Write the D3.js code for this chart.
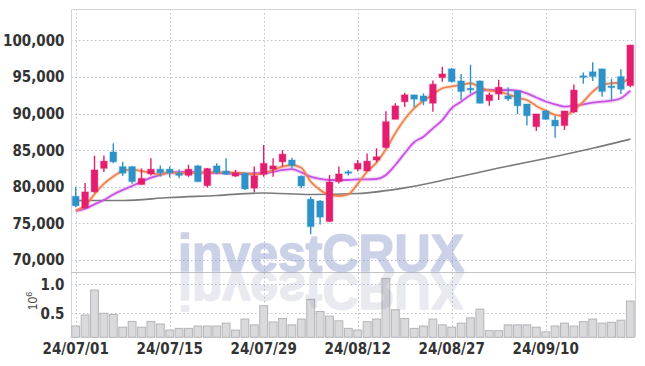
<!DOCTYPE html>
<html>
<head>
<meta charset="utf-8">
<script src="https://cdn.jsdelivr.net/npm/d3@7"></script>
<style>
  html, body { margin: 0; padding: 0; background: #fff; }
  svg { display: block; }
  .lbl { font-family: "Liberation Sans Narrow", "DejaVu Sans Condensed", sans-serif; font-size: 15px; font-weight: bold; fill: #333; }
</style>
</head>
<body>
<svg id="chart" width="645" height="366"></svg>
<script>
// ---------- DATA ----------
const dates = [
  "24/07/01","24/07/02","24/07/03","24/07/04","24/07/05","24/07/08","24/07/09","24/07/10","24/07/11","24/07/12",
  "24/07/15","24/07/16","24/07/17","24/07/18","24/07/19","24/07/22","24/07/23","24/07/24","24/07/25","24/07/26",
  "24/07/29","24/07/30","24/07/31","24/08/01","24/08/02","24/08/05","24/08/06","24/08/07","24/08/08","24/08/09",
  "24/08/12","24/08/13","24/08/14","24/08/16","24/08/19","24/08/20","24/08/21","24/08/22","24/08/23","24/08/26",
  "24/08/27","24/08/28","24/08/29","24/08/30","24/09/02","24/09/03","24/09/04","24/09/05","24/09/06","24/09/09",
  "24/09/10","24/09/11","24/09/12","24/09/13","24/09/19","24/09/20","24/09/23","24/09/24","24/09/25","24/09/26"
];
const openP  = [78700,77100,79300,82500,84750,82750,82750,80300,81750,82400,
                82400,81850,81550,82850,80150,82850,82150,81450,81850,79800,
                81700,82400,83400,83650,81450,78300,78050,75250,80700,82050,
                82400,82150,83650,85350,89200,91600,92550,92400,91400,94900,
                96100,94450,93450,94450,91750,92650,92400,93100,91300,88200,
                90350,89100,88350,90200,95150,95700,96100,93750,95050,93800];
const highP  = [80000,80500,84250,84250,85950,83400,82800,82500,83900,82900,
                82750,82400,83000,83000,82550,83200,83900,82300,81900,82750,
                85700,83900,85000,83950,81550,78650,78200,81600,82750,82300,
                83650,84550,85250,90300,91400,92850,92550,92750,94500,96400,
                96200,95400,96650,94500,92850,94600,93600,93200,91300,89950,
                90400,89650,90350,93950,95600,97000,96100,94700,96050,99400];
const lowP   = [77200,77000,79200,82000,83200,81500,80400,80250,81550,81400,
                81250,81150,81350,80600,79900,81700,81600,81350,79550,79250,
                81350,81350,82750,82500,79800,73500,74850,75200,80450,81550,
                82100,82100,83400,85300,89200,90900,90850,91150,90250,94350,
                94250,91850,92750,91350,91050,91850,91700,89900,88350,87600,
                89150,86700,87750,90050,94050,94450,92300,91850,92650,93600];
const closeP = [77400,79300,82300,83500,83400,81850,80700,81150,82400,81900,
                81900,81550,82400,80700,82500,81950,81700,81900,79700,81500,
                83200,82850,84450,82900,80100,74550,75850,80650,81750,82000,
                83200,83500,84100,88900,91050,92550,91950,91700,94000,95400,
                94350,93000,93400,91400,92550,93600,92000,91050,89700,89950,
                89200,88300,90350,93200,95100,95050,93000,93700,93300,99350];
// volume in millions of shares
const volume = [0.28,0.47,0.90,0.50,0.48,0.26,0.36,0.26,0.36,0.315,
                0.21,0.24,0.24,0.28,0.28,0.28,0.33,0.21,0.40,0.30,
                0.63,0.35,0.41,0.30,0.40,0.74,0.53,0.45,0.37,0.24,
                0.21,0.355,0.40,1.10,0.56,0.41,0.24,0.28,0.40,0.30,
                0.26,0.33,0.42,0.57,0.20,0.20,0.30,0.30,0.30,0.26,
                0.18,0.28,0.33,0.28,0.355,0.40,0.33,0.345,0.38,0.71];
// moving averages
const maShort = [76760,77400,79000,80400,81400,82150,82330,82150,81920,81700,
                 81950,81840,81840,81920,81970,81970,81970,81920,81840,81700,
                 81840,82290,82740,82970,82600,80690,79560,78880,78740,78970,
                 80400,82060,83290,85110,87300,89210,90710,91710,92630,93450,
                 93700,93900,94130,93580,93120,92980,92630,92160,91850,91030,
                 90390,89800,89660,90480,91620,92980,93900,94130,94210,94950];
const maMid   = [76690,77000,77600,78190,78950,79560,80100,80690,81240,81610,
                 81970,82010,82060,81970,81920,81880,81840,81790,81740,81840,
                 81840,82060,82290,82420,81970,81370,81060,80920,80920,80920,
                 81020,81020,81060,81610,82970,84570,86070,86840,87980,89100,
                 90750,91620,92530,93080,93210,93210,93210,93120,92740,92190,
                 91640,91260,90930,91030,91260,91480,91620,91750,92080,93120];
const maLongDates = ["24/07/01","24/07/08","24/07/15","24/07/22","24/07/29","24/08/05","24/08/12",
                     "24/08/20","24/08/27","24/09/03","24/09/10","24/09/20","24/09/26"];
const maLong      = [78120,78120,78530,78810,79150,78940,79080,79850,81150,82550,83850,85250,86500];
const priceTicks  = [70000,75000,80000,85000,90000,95000,100000];
const volTicks    = [0.5,1.0];
const dateTicks   = ["24/07/01","24/07/15","24/07/29","24/08/12","24/08/27","24/09/10"];

// ---------- LAYOUT ----------
const L = 71, R = 635, T = 9, MID = 272, B = 337.3;
const svg = d3.select("#chart");
const x = d3.scaleBand().domain(dates).range([L, R]).paddingInner(0.28).paddingOuter(0.14);
const xv = d3.scaleBand().domain(dates).range([L, R]).paddingInner(0.06).paddingOuter(0.03);
const cx = d => x(d) + x.bandwidth() / 2;
const y = d3.scaleLinear().domain([68360, 104270]).range([MID, T]);
const yv = d3.scaleLinear().domain([0.086, 1.21]).range([B, MID]);

const UP = "#e41e6e", DOWN = "#2e92c8";
const gridColor = "#bcc0d4";

// ---------- GRID ----------
const grid = svg.append("g");
grid.selectAll("line.hp").data(priceTicks).join("line")
  .attr("x1", L).attr("x2", R).attr("y1", d => Math.round(y(d)) + 0.5).attr("y2", d => Math.round(y(d)) + 0.5)
  .attr("stroke", gridColor).attr("stroke-dasharray", "1.5,2.5");
grid.selectAll("line.hv").data(volTicks).join("line")
  .attr("x1", L).attr("x2", R).attr("y1", d => Math.round(yv(d)) + 0.5).attr("y2", d => Math.round(yv(d)) + 0.5)
  .attr("stroke", gridColor).attr("stroke-dasharray", "1.5,2.5");
grid.selectAll("line.vx").data(dateTicks).join("line")
  .attr("x1", d => Math.round(cx(d)) + 0.5).attr("x2", d => Math.round(cx(d)) + 0.5)
  .attr("y1", T).attr("y2", B)
  .attr("stroke", gridColor).attr("stroke-dasharray", "1.5,2.5");

// ---------- FRAME ----------
const frame = svg.append("g").attr("fill", "none");
frame.append("line").attr("x1", L).attr("x2", R).attr("y1", T + 0.5).attr("y2", T + 0.5).attr("stroke", "#d4d4dc");
frame.append("line").attr("x1", L + 0.5).attr("x2", L + 0.5).attr("y1", T).attr("y2", B).attr("stroke", "#d4d4dc");
frame.append("line").attr("x1", R + 0.5).attr("x2", R + 0.5).attr("y1", T).attr("y2", B).attr("stroke", "#d4d4dc");
frame.append("line").attr("x1", L).attr("x2", R).attr("y1", MID + 0.5).attr("y2", MID + 0.5).attr("stroke", "#c4c4c8");

// ---------- VOLUME ----------
svg.append("g").selectAll("rect").data(dates).join("rect")
  .attr("x", d => xv(d) + 0.5)
  .attr("width", xv.bandwidth() - 1)
  .attr("y", (d, i) => yv(volume[i]))
  .attr("height", (d, i) => B - yv(volume[i]))
  .attr("fill", "#dadadc").attr("stroke", "#b4b4b8").attr("stroke-width", 1);

// ---------- MOVING AVERAGES ----------
function drawLine(xs, vals, color, w, halo) {
  const line = d3.line().x(d => cx(d[0])).y(d => y(d[1])).curve(d3.curveMonotoneX);
  const pts = xs.map((d, i) => [d, vals[i]]);
  const g = svg.append("g").attr("fill", "none");
  if (halo) g.append("path").attr("d", line(pts)).attr("stroke", color).attr("stroke-width", w + 2.4).attr("stroke-opacity", 0.22).attr("stroke-linejoin", "round");
  g.append("path").attr("d", line(pts)).attr("stroke", color).attr("stroke-width", w).attr("stroke-linejoin", "round");
}
drawLine(maLongDates, maLong, "#7a7a7a", 1.6, false);
drawLine(dates, maMid, "#c852e4", 1.8, true);
drawLine(dates, maShort, "#ee8450", 1.8, true);

// ---------- CANDLES ----------
const candles = svg.append("g");
dates.forEach((d, i) => {
  const o = openP[i], c = closeP[i], h = highP[i], l = lowP[i];
  const col = c > o ? UP : DOWN;
  const g = candles.append("g");
  g.append("line").attr("x1", cx(d)).attr("x2", cx(d)).attr("y1", y(h)).attr("y2", y(l))
    .attr("stroke", col).attr("stroke-width", 1.4);
  const top = y(Math.max(o, c)), bot = y(Math.min(o, c));
  g.append("rect").attr("x", x(d)).attr("width", x.bandwidth())
    .attr("y", top).attr("height", Math.max(1.6, bot - top))
    .attr("fill", col).attr("stroke", col).attr("stroke-opacity", 0.25).attr("stroke-width", 1.5);
});

// ---------- AXIS LABELS ----------
const fmt = d3.format(",");
svg.append("g").selectAll("text").data(priceTicks).join("text")
  .attr("class", "lbl").attr("x", 64.5).attr("y", d => y(d)).attr("dy", "0.36em")
  .attr("text-anchor", "end").text(d => fmt(d));
svg.append("g").selectAll("text").data(volTicks).join("text")
  .attr("class", "lbl").attr("x", 64.5).attr("y", d => yv(d)).attr("dy", "0.36em")
  .attr("text-anchor", "end").text(d => d3.format(".1f")(d));
svg.append("g").selectAll("text").data(dateTicks).join("text")
  .attr("class", "lbl").attr("x", d => cx(d)).attr("y", 354)
  .attr("text-anchor", "middle").text(d => d);

const exp = svg.append("text")
  .attr("transform", "translate(37,301) rotate(-90)")
  .attr("text-anchor", "middle")
  .style("font-family", "'Liberation Sans', sans-serif").style("font-size", "12px").style("fill", "#444");
exp.append("tspan").text("10");
exp.append("tspan").attr("dy", "-5").style("font-size", "9px").text("6");

// ---------- WATERMARK ----------
const defs = svg.append("defs");
defs.append("text").attr("id", "wmtext").attr("x", 178).attr("y", 271)
  .attr("textLength", 286).attr("lengthAdjust", "spacingAndGlyphs")
  .style("font-family", "'Liberation Sans', Arial, sans-serif")
  .style("font-weight", "bold").style("font-size", "52px")
  .text("investCRUX");
svg.append("use").attr("href", "#wmtext")
  .attr("fill", "#7f90c8").attr("stroke", "#7f90c8").attr("stroke-width", 1.6)
  .attr("stroke-linejoin", "round").attr("opacity", 0.4);
svg.append("use").attr("href", "#wmtext")
  .attr("transform", "translate(0,544) scale(1,-1)")
  .attr("fill", "#8080a8").attr("stroke", "#8080a8").attr("stroke-width", 1.6)
  .attr("stroke-linejoin", "round").attr("opacity", 0.17);
</script>
</body>
</html>
